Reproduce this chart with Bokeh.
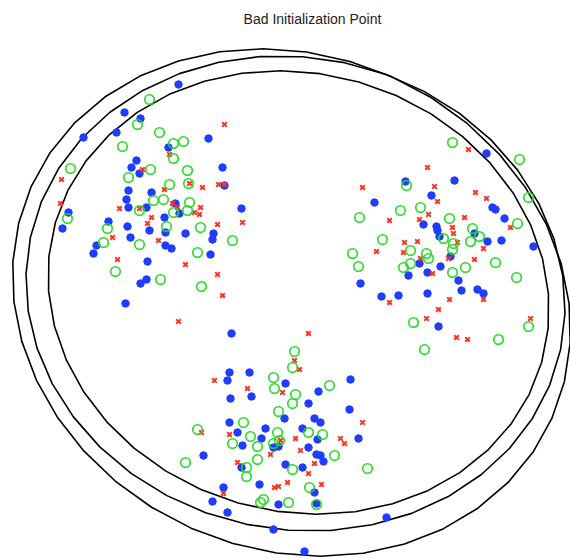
from bokeh.plotting import figure
from bokeh.models import Range1d, Label
from bokeh.embed import file_html
from bokeh.resources import INLINE
import numpy as np

TITLE = "Bad Initialization Point"

# Points (x, y in picture pixels, y downward)
blue_x = [178,124,140,83,116,208,168,136,131,139,222,224,128,151,126,128,146,241,68,175,179,164,62,108,127,149,165,185,213,212,130,96,93,165,171,210,147,146,140,125,
          486,405,454,374,431,492,495,504,423,436,437,439,474,487,501,533,450,419,408,427,440,458,461,360,477,483,381,398,427,438,
          231,229,249,227,285,350,318,230,251,308,349,284,229,314,320,265,237,261,302,317,358,242,273,278,308,203,316,320,323,285,302,241,223,259,314,212,278,316,227,273,304,386]
blue_y = [84,112,118,137,132,138,147,160,167,173,167,185,190,192,199,207,207,208,212,203,213,217,228,221,226,230,232,233,233,239,237,245,253,245,248,254,261,279,283,303,
          153,181,180,202,195,207,209,218,224,226,230,236,233,241,240,246,256,263,275,272,266,280,290,283,289,293,296,295,293,326,
          333,372,372,380,383,379,391,398,396,403,409,418,422,418,422,428,432,438,428,439,438,445,447,446,447,455,454,455,461,464,467,467,487,484,492,501,504,503,512,529,551,517]

red_x = [224,61,60,169,142,164,189,202,218,224,119,139,151,147,172,177,194,200,199,217,242,112,158,117,185,217,222,178,
         468,427,362,434,475,486,437,428,419,389,464,510,452,453,457,404,417,483,376,403,420,448,474,432,389,449,483,438,426,530,456,467,
         308,294,299,214,247,282,362,201,229,280,295,340,344,300,270,237,314,308,287,274,278,321,223]
red_y = [124,179,203,154,169,189,183,187,184,184,208,208,217,223,203,207,212,207,214,224,222,237,240,259,264,274,295,321,
         149,167,187,186,192,198,201,214,219,220,217,227,227,233,242,242,241,248,251,252,258,258,259,273,302,299,299,309,318,318,337,339,
         333,360,369,380,388,392,422,432,434,440,438,438,443,450,454,462,463,473,482,487,486,484,493]

green_x = [149,137,159,122,173,183,173,70,150,128,187,169,188,153,163,189,139,173,187,67,166,107,200,232,103,139,197,115,160,201,
           452,519,406,528,420,400,359,449,517,472,479,470,443,453,452,382,352,410,426,428,358,403,410,452,465,495,516,413,528,498,424,
           294,292,273,274,295,292,329,278,243,197,250,232,257,277,273,279,308,322,257,334,185,246,246,292,367,309,263,260,288,316]
green_y = [99,124,132,146,143,141,158,168,169,177,170,184,183,200,199,202,210,212,210,218,226,228,227,240,242,244,252,271,279,286,
           142,159,185,197,207,210,217,218,223,228,236,241,238,243,249,239,253,250,253,258,266,267,263,272,267,262,277,322,326,339,349,
           351,367,377,388,394,403,385,411,422,429,436,443,446,432,443,440,432,434,459,455,462,467,476,469,468,487,499,502,502,504]

# Three fitted ellipses: centre, semi-axes, tilt (degrees, major axis pointing down-right)
ell_cx = [291, 295, 298]
ell_cy = [302, 293, 292]
ell_a = [285, 271, 253]
ell_b = [247, 236, 219]
ell_angle = [24, 12, 16]
N_VERTS = 40

def ellipse_outline(cx, cy, a, b, deg, n):
    t = np.linspace(0, 2 * np.pi, n + 1)
    th = np.radians(deg)
    xs = cx + a * np.cos(t) * np.cos(th) - b * np.sin(t) * np.sin(th)
    ys = cy + a * np.cos(t) * np.sin(th) + b * np.sin(t) * np.cos(th)
    return list(xs), list(ys)

outlines = [ellipse_outline(*e, N_VERTS) for e in zip(ell_cx, ell_cy, ell_a, ell_b, ell_angle)]

W, H = 570, 559
p = figure(width=W, height=H, output_backend="svg", toolbar_location=None,
           x_range=Range1d(0, W), y_range=Range1d(H, 0),
           min_border=0, outline_line_color=None, background_fill_color="white")
p.axis.visible = False
p.grid.visible = False

p.multi_line(xs=[o[0] for o in outlines], ys=[o[1] for o in outlines],
             line_color="black", line_width=1.6, line_join="round")

p.scatter(blue_x, blue_y, marker="circle", size=7.5, fill_color="#1f3cff", line_color="#1f3cff")
p.scatter(red_x, red_y, marker="x", size=6.5, line_color="#ff3322", line_width=2)
p.scatter(green_x, green_y, marker="circle", size=9.5, fill_color=None, line_color="#22dd22", line_width=1.6)

p.add_layout(Label(x=312, y=18, text=TITLE, text_align="center", text_baseline="middle",
                   text_font_size="14px", text_color="#222222", text_font="Liberation Sans"))

open("out.html", "w").write(file_html(p, INLINE))
